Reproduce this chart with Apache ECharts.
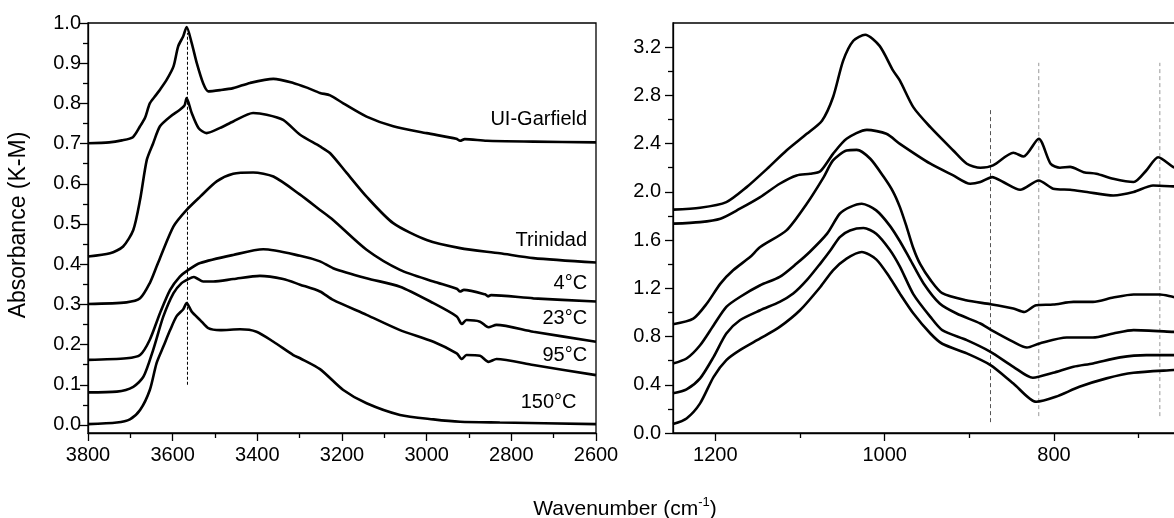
<!DOCTYPE html>
<html>
<head>
<meta charset="utf-8">
<script src="https://cdn.jsdelivr.net/npm/echarts@6/dist/echarts.min.js"></script>
<style>
html,body{margin:0;padding:0;background:#fff;overflow:hidden;}
#c{width:1200px;height:518px;}
</style>
</head>
<body>
<div id="c"></div>
<script>
// ---------- tick values ----------
const leftXLabels = [3800, 3600, 3400, 3200, 3000, 2800, 2600];
const leftXMinor = [3700, 3500, 3300, 3100, 2900, 2700];
const leftYLabels = [0.0, 0.1, 0.2, 0.3, 0.4, 0.5, 0.6, 0.7, 0.8, 0.9, 1.0];
const leftYMinor = [0.05, 0.15, 0.25, 0.35, 0.45, 0.55, 0.65, 0.75, 0.85, 0.95];
const rightXLabels = [1200, 1000, 800];
const rightXMinor = [1100, 900, 700];
const rightYLabels = [0.0, 0.4, 0.8, 1.2, 1.6, 2.0, 2.4, 2.8, 3.2];
const rightYMinor = [0.2, 0.6, 1.0, 1.4, 1.8, 2.2, 2.6, 3.0];

// ---------- left panel (O-H region) ----------
const garfield = [[3800,0.701],[3750,0.703],[3720,0.708],[3694,0.716],[3677,0.743],[3665,0.765],[3654,0.80],[3640,0.82],[3630,0.834],[3614,0.859],[3598,0.892],[3587,0.942],[3575,0.967],[3567,0.99],[3555,0.95],[3543,0.90],[3528,0.85],[3516,0.83],[3488,0.833],[3457,0.838],[3417,0.851],[3362,0.861],[3315,0.851],[3280,0.838],[3252,0.826],[3228,0.82],[3197,0.80],[3142,0.767],[3079,0.743],[3000,0.726],[2930,0.712],[2921,0.707],[2910,0.711],[2858,0.707],[2748,0.705],[2600,0.703]];
const trinidad = [[3800,0.419],[3748,0.427],[3717,0.444],[3693,0.485],[3677,0.56],[3661,0.66],[3646,0.701],[3630,0.743],[3606,0.767],[3583,0.784],[3572,0.795],[3567,0.813],[3555,0.776],[3539,0.739],[3520,0.726],[3488,0.739],[3457,0.755],[3410,0.776],[3378,0.772],[3339,0.759],[3299,0.722],[3252,0.693],[3228,0.676],[3189,0.627],[3142,0.568],[3079,0.502],[3000,0.46],[2921,0.44],[2827,0.427],[2748,0.415],[2600,0.404]];
const c4 = [[3800,0.301],[3709,0.305],[3677,0.315],[3654,0.353],[3638,0.394],[3630,0.415],[3598,0.494],[3567,0.535],[3535,0.568],[3496,0.606],[3457,0.625],[3410,0.628],[3362,0.618],[3299,0.573],[3252,0.535],[3221,0.51],[3142,0.436],[3063,0.386],[2984,0.357],[2929,0.339],[2921,0.332],[2912,0.336],[2862,0.325],[2855,0.320],[2848,0.323],[2748,0.315],[2600,0.307]];
const c23 = [[3800,0.162],[3709,0.166],[3677,0.174],[3654,0.212],[3630,0.278],[3606,0.336],[3583,0.369],[3563,0.386],[3535,0.403],[3457,0.423],[3386,0.437],[3299,0.421],[3252,0.407],[3221,0.39],[3142,0.365],[3063,0.344],[2984,0.303],[2929,0.27],[2917,0.251],[2906,0.261],[2874,0.257],[2854,0.243],[2835,0.249],[2748,0.232],[2600,0.207]];
const c95 = [[3800,0.081],[3732,0.083],[3693,0.095],[3669,0.12],[3646,0.187],[3622,0.27],[3598,0.328],[3579,0.353],[3563,0.363],[3550,0.368],[3543,0.365],[3528,0.357],[3504,0.357],[3457,0.363],[3394,0.371],[3339,0.363],[3299,0.349],[3252,0.332],[3221,0.311],[3142,0.274],[3063,0.236],[2984,0.207],[2929,0.178],[2917,0.164],[2906,0.174],[2874,0.172],[2854,0.157],[2835,0.164],[2748,0.149],[2600,0.124]];
const c150 = [[3800,0.002],[3732,0.006],[3701,0.014],[3677,0.037],[3654,0.087],[3638,0.154],[3622,0.195],[3606,0.236],[3591,0.270],[3575,0.288],[3567,0.303],[3555,0.282],[3535,0.261],[3516,0.241],[3488,0.236],[3441,0.238],[3402,0.232],[3362,0.207],[3315,0.174],[3299,0.166],[3252,0.139],[3197,0.087],[3142,0.054],[3063,0.025],[2984,0.014],[2921,0.008],[2827,0.006],[2600,0.002]];

const curveLabels = ['UI-Garfield', 'Trinidad', '4°C', '23°C', '95°C', '150°C'];
const curveLabelAt = [[2621,0.760],[2621,0.458],[2621,0.353],[2621,0.266],[2621,0.174],[2646,0.057]];

const leftMarkerX = 3565;
const leftMarkerSpan = [0.10, 0.975];

// ---------- right panel (lattice region) ----------
const r1 = [[1250,1.852],[1218,1.868],[1187,1.915],[1163,2.039],[1139,2.19],[1116,2.343],[1092,2.481],[1074,2.59],[1061,2.784],[1049,3.088],[1037,3.253],[1023,3.303],[1006,3.21],[990,3.005],[982,2.922],[966,2.70],[946,2.536],[919,2.343],[903,2.233],[887,2.20],[872,2.219],[848,2.324],[836,2.293],[818,2.44],[804,2.233],[793,2.20],[781,2.207],[765,2.163],[750,2.15],[730,2.108],[706,2.081],[691,2.177],[677,2.287],[659,2.205],[650,2.18]];
const r2 = [[1250,1.736],[1218,1.749],[1194,1.777],[1171,1.86],[1147,1.956],[1124,2.067],[1104,2.136],[1088,2.15],[1076,2.171],[1061,2.315],[1045,2.44],[1021,2.514],[998,2.481],[982,2.398],[946,2.233],[919,2.136],[899,2.067],[887,2.081],[873,2.122],[860,2.081],[840,2.017],[818,2.094],[801,2.026],[781,2.017],[761,1.998],[730,1.97],[706,1.998],[683,2.053],[659,2.045],[650,2.04]];
const r3 = [[1250,0.902],[1226,0.949],[1210,1.074],[1194,1.239],[1179,1.349],[1159,1.459],[1147,1.542],[1116,1.68],[1092,1.901],[1072,2.122],[1061,2.26],[1045,2.343],[1033,2.348],[1017,2.274],[1001,2.122],[990,2.0],[982,1.873],[974,1.708],[966,1.53],[958,1.40],[946,1.27],[932,1.16],[904,1.101],[875,1.068],[848,1.032],[835,1.004],[821,1.06],[801,1.065],[777,1.087],[754,1.087],[730,1.123],[706,1.148],[675,1.148],[659,1.128],[650,1.12]];
const r4 = [[1250,0.577],[1234,0.618],[1218,0.728],[1202,0.894],[1187,1.046],[1171,1.128],[1147,1.225],[1124,1.294],[1104,1.405],[1088,1.505],[1068,1.653],[1053,1.819],[1041,1.873],[1027,1.901],[1010,1.846],[994,1.72],[982,1.59],[970,1.44],[954,1.24],[935,1.074],[915,0.991],[887,0.908],[875,0.858],[848,0.756],[832,0.709],[817,0.743],[785,0.792],[754,0.792],[730,0.825],[706,0.853],[659,0.839],[650,0.835]];
const r5 = [[1250,0.329],[1234,0.362],[1218,0.453],[1202,0.632],[1187,0.825],[1171,0.935],[1147,1.018],[1124,1.087],[1108,1.156],[1092,1.267],[1076,1.405],[1064,1.515],[1053,1.625],[1041,1.68],[1025,1.70],[1010,1.653],[994,1.52],[982,1.38],[966,1.15],[946,0.963],[932,0.853],[903,0.77],[875,0.673],[848,0.549],[825,0.458],[801,0.499],[777,0.549],[754,0.577],[722,0.627],[691,0.646],[659,0.646],[650,0.645]];
const r6 = [[1250,0.074],[1234,0.121],[1218,0.246],[1202,0.466],[1187,0.604],[1171,0.687],[1147,0.784],[1124,0.88],[1100,1.018],[1076,1.211],[1061,1.349],[1045,1.446],[1027,1.501],[1010,1.44],[994,1.29],[982,1.156],[966,0.991],[946,0.825],[932,0.740],[903,0.66],[875,0.563],[848,0.411],[821,0.259],[798,0.30],[770,0.383],[738,0.453],[706,0.499],[659,0.522],[650,0.525]];

const rightMarkerX = [875, 818, 675];
const rightMarkerSpan = [[0.09, 2.70], [0.14, 3.07], [0.14, 3.07]];

// ---------- chart ----------
const FONT = '"Liberation Sans", Arial, sans-serif';
const BLACK = '#000';

function mainAxis(gridIndex, opts) {
  return {
    type: 'value', gridIndex: gridIndex, min: opts.min, max: opts.max,
    inverse: !!opts.inverse, position: opts.position,
    axisLine: { show: true, onZero: false, lineStyle: { color: BLACK, width: 1.3 } },
    axisTick: { show: true, inside: false, length: 8, customValues: opts.labels, lineStyle: { color: BLACK, width: 1.3 } },
    axisLabel: { show: true, customValues: opts.labels, margin: opts.margin, color: BLACK, fontSize: 20, fontFamily: FONT,
      formatter: opts.fmt },
    splitLine: { show: false }
  };
}
function minorAxis(gridIndex, opts) {
  return {
    type: 'value', gridIndex: gridIndex, min: opts.min, max: opts.max,
    inverse: !!opts.inverse, position: opts.position,
    axisLine: { show: false, onZero: false },
    axisTick: { show: true, inside: false, length: 5, customValues: opts.minor, lineStyle: { color: BLACK, width: 1.3 } },
    axisLabel: { show: false },
    splitLine: { show: false }
  };
}

const fmt1 = v => v.toFixed(1);
const fmt0 = v => String(Math.round(v));

const lx = { min: 2600, max: 3800, inverse: true, position: 'bottom', labels: leftXLabels, minor: leftXMinor, margin: 12, fmt: fmt0 };
const ly = { min: -0.02, max: 1.0, position: 'left', labels: leftYLabels, minor: leftYMinor, margin: 7, fmt: fmt1 };
const rx = { min: 650, max: 1250, inverse: true, position: 'bottom', labels: rightXLabels, minor: rightXMinor, margin: 12, fmt: fmt0 };
const ry = { min: 0, max: 3.4, position: 'left', labels: rightYLabels, minor: rightYMinor, margin: 12, fmt: fmt1 };

function curve(data, xi, yi) {
  return {
    type: 'line', data: data, xAxisIndex: xi, yAxisIndex: yi, symbol: 'none', smooth: 0.25,
    lineStyle: { color: BLACK, width: 2.6 }, silent: true, z: 3
  };
}
function marker(x, span, xi, yi, color, dash) {
  return {
    type: 'line', data: [[x, span[0]], [x, span[1]]], xAxisIndex: xi, yAxisIndex: yi, symbol: 'none',
    lineStyle: { color: color, width: 1, type: dash }, silent: true, z: 2
  };
}

const series = [
  curve(garfield, 0, 0), curve(trinidad, 0, 0), curve(c4, 0, 0), curve(c23, 0, 0), curve(c95, 0, 0), curve(c150, 0, 0),
  marker(leftMarkerX, leftMarkerSpan, 0, 0, '#000', [3, 2]),
  curve(r1, 2, 2), curve(r2, 2, 2), curve(r3, 2, 2), curve(r4, 2, 2), curve(r5, 2, 2), curve(r6, 2, 2)
];
rightMarkerX.forEach((x, i) => {
  series.push(marker(x, rightMarkerSpan[i], 2, 2, i === 0 ? '#555' : '#999', [4, 3]));
});

const option = {
  animation: false,
  backgroundColor: '#fff',
  grid: [
    { left: 88, top: 23, width: 508, height: 410, show: true, borderColor: BLACK, borderWidth: 1.3, backgroundColor: 'transparent' },
    { left: 673, top: 23, width: 508, height: 410, show: true, borderColor: BLACK, borderWidth: 1.3, backgroundColor: 'transparent' }
  ],
  xAxis: [ mainAxis(0, lx), minorAxis(0, lx), mainAxis(1, rx), minorAxis(1, rx) ],
  yAxis: [ mainAxis(0, ly), minorAxis(0, ly), mainAxis(1, ry), minorAxis(1, ry) ],
  series: series,
  graphic: [
    {
      type: 'text', x: 19, y: 225, rotation: Math.PI / 2,
      style: { text: 'Absorbance (K-M)', fill: BLACK, font: '23px "Liberation Sans", Arial, sans-serif', textAlign: 'center', textVerticalAlign: 'middle' }
    },
    {
      type: 'text', x: 625, y: 508,
      style: {
        text: '{a|Wavenumber (cm}{s|-1}{a|)}', textAlign: 'center', textVerticalAlign: 'middle',
        rich: {
          a: { fontSize: 21, fontFamily: FONT, fill: BLACK, lineHeight: 24, verticalAlign: 'bottom' },
          s: { fontSize: 13, fontFamily: FONT, fill: BLACK, lineHeight: 24, verticalAlign: 'top' }
        }
      }
    }
  ]
};

const chart = echarts.init(document.getElementById('c'), null, { renderer: 'canvas' });
chart.setOption(option);

// curve name labels placed through the left panel's own scales
const labelGraphics = curveLabels.map((name, i) => {
  const p = chart.convertToPixel({ xAxisIndex: 0, yAxisIndex: 0 }, curveLabelAt[i]);
  return {
    type: 'text', x: p[0], y: p[1], silent: true, z: 10,
    style: { text: name, fill: BLACK, font: '20px "Liberation Sans", Arial, sans-serif', textAlign: 'right', textVerticalAlign: 'middle' }
  };
});
chart.setOption({ graphic: option.graphic.concat(labelGraphics) });
</script>
</body>
</html>
